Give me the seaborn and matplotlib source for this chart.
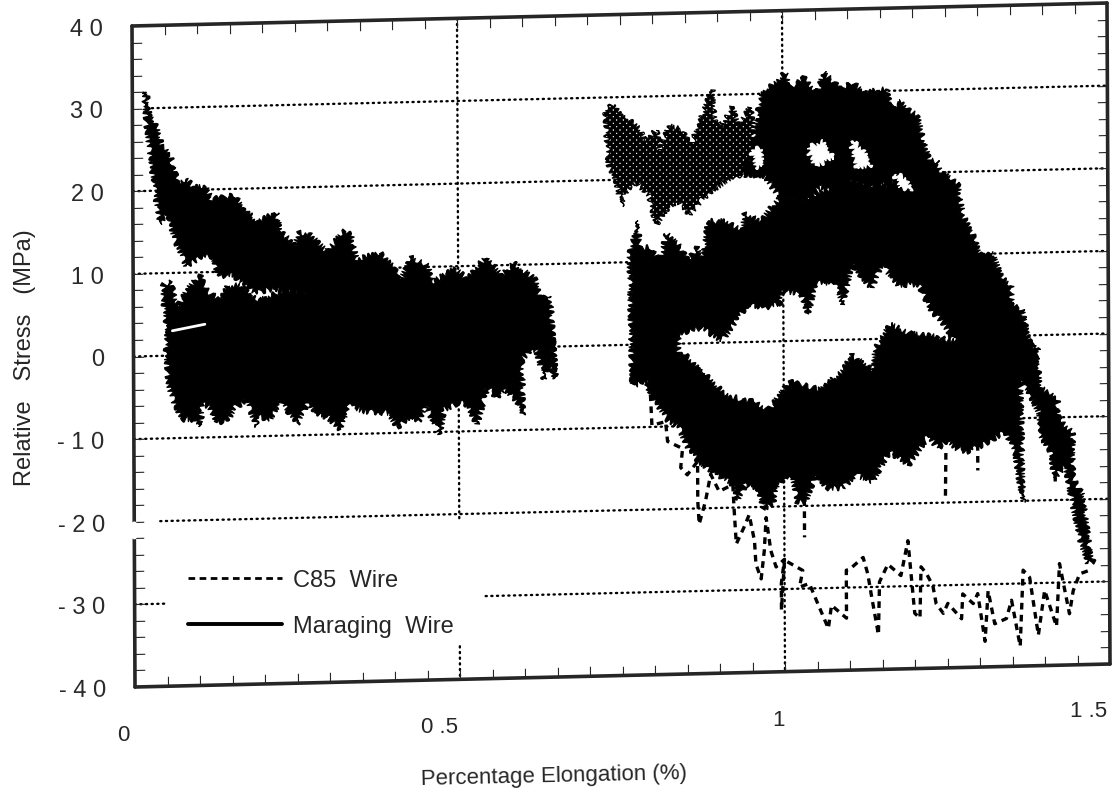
import numpy as np
import seaborn as sns
import matplotlib
matplotlib.use("Agg")
import matplotlib.pyplot as plt
from matplotlib.lines import Line2D
from matplotlib.transforms import Affine2D
from mpl_toolkits.axisartist import floating_axes
from mpl_toolkits.axisartist.grid_finder import FixedLocator, DictFormatter

# maraging wire, first run: decaying band on top of the flat band
decay_top_x = [.021,.026,.041,.044,.058,.069,.082,.095,.113,.121,.156,.172,.192,.220,.228,.249,.256,.272,.297,.326,.336,.344,.379,.403,.410,.428,.454,.459,.495,.515,.541,.567,.585,.618,.626,.641,.646,.649]
decay_top_y = [32.0,29.9,27.3,25.5,24.2,21.0,21.3,20.3,20.3,18.8,19.2,17.5,15.9,17.0,14.6,13.0,14.5,14.3,12.2,14.6,14.0,11.1,11.9,9.8,8.2,11.2,10.1,8.1,9.7,8.4,11.0,8.7,10.3,8.2,5.8,6.2,0.1,-3.9]
decay_low_x = [.018,.023,.033,.041,.054,.064,.082,.100,.123,.131,.154,.187,.218,.244,.646]
decay_low_y = [32.0,27.1,20.6,16.1,17.3,14.1,10.8,11.6,12.0,9.5,9.5,7.4,7.8,7.4,0.1]
flat_top_x = [.051,.046,.056,.069,.087,.103,.113,.131,.146,.164,.187,.205,.223,.244,.285,.644]
flat_top_y = [0,8.5,9.1,6,8.4,9.6,7.8,6.7,8.3,8.3,6.6,6.6,7.4,7.4,7.2,2]
flat_low_x = [.054,.064,.074,.092,.103,.105,.118,.128,.144,.156,.174,.180,.190,.192,.210,.226,.238,.251,.269,.279,.300,.318,.331,.354,.374,.392,.405,.428,.438,.449,.471,.477,.495,.510,.528,.544,.559,.571,.589,.598,.598,.612,.620,.631,.641,.649]
flat_low_y = [-3.6,-6.2,-7.7,-7.9,-8.7,-5.9,-6.5,-8.2,-8,-6.4,-5.7,-7,-8.9,-7.7,-7.9,-5.7,-7.2,-8.6,-5.9,-7.3,-8,-9.4,-6.6,-7.3,-7.5,-7.5,-9.3,-8,-8.6,-6.8,-10.3,-7.3,-6.7,-6.5,-9.2,-4.8,-6,-5.2,-6.4,-8.2,-1.4,-.2,-.4,-4,-2.5,-3.9]
sliver_x = [.06,.11]
sliver_y = [3.0,3.7]

# maraging wire, second run: upper and lower arch around the white lens
arch_top_x = [.764,.767,.777,.779,.797,.810,.821,.838,.854,.867,.877,.885,.910,.938,.941,.967,.982,.995,1.028,1.059,1.105,1.136,1.172,1.213,1.30,1.35,1.38,1.39]
arch_top_y = [10.6,12.6,15,11.7,11.7,10.1,13.3,12.1,10,11.6,10.3,14.7,14.7,13.4,15.5,14.6,16.2,17.4,17,18.1,19.2,18.3,18.9,16.6,9,3,-1,-3]
lens_top_x = [.84,.838,.874,.905,.946,.972,.995,.997,1.028,1.038,1.049,1.079,1.092,1.105,1.136,1.151,1.177,1.208,1.228,1.244,1.264,1.27]
lens_top_y = [-3,1.2,1.9,.2,4.6,4.1,4.5,6.1,5.6,3.2,7,6.8,4.3,9.1,6.2,9,6.5,6.5,3.2,1.9,-.5,-3]
arch_left_x = [.767]
arch_left_y = [-5]
lens_low_x = [.844,.879,.910,.956,.977,1.008,1.054,1.090,1.105,1.138,1.141,1.164,1.197,1.238,1.264]
lens_low_y = [-1.1,-3.5,-6.4,-7.3,-8.3,-4.9,-5.9,-3.9,-1.9,-3.8,-1.2,1.7,.5,.1,-.5]
arch_low_x = [.767,.769,.785,.795,.810,.823,.838,.846,.854,.869,.890,.921,.928,.941,.959,.969,.982,.990,1.013,1.021,1.033,1.049,1.067,1.090,1.110,1.136,1.162,1.192,1.223,1.236,1.251,1.264,1.285,1.315,1.341,1.356,1.367,1.364,1.392]
arch_low_y = [-4.5,-2.5,-3.4,-6.1,-7.8,-9.4,-10.1,-11.5,-13,-14.3,-15.6,-17.2,-19.2,-17.2,-17.7,-20.1,-19.7,-17.3,-16.6,-19.7,-19.4,-16.2,-17.9,-17.9,-16.4,-17.2,-13.7,-15.3,-11.8,-13.4,-12.6,-13.5,-13.9,-12.7,-11.6,-14.4,-20.2,-5.7,-2]
tail_right_x = [1.377,1.392,1.397,1.421,1.423,1.444,1.444,1.459,1.464,1.469,1.475]
tail_right_y = [-.6,-2.9,-6.5,-7.8,-10.2,-11.8,-17.4,-19.4,-22.6,-26.1,-27.5]
tail_left_x = [1.364,1.377,1.392,1.397,1.410,1.415,1.433,1.444,1.454,1.467]
tail_left_y = [-5.7,-6.9,-9.3,-12.5,-14.1,-17.3,-16,-20.6,-24.6,-27.8]

# C85 wire, upper band
c85_top_x = [.728,.741,.751,.762,.779,.787,.808,.810,.826,.844,.859,.869,.892,.895,.908,.923,.931,.951,.962,.967,.992,1.005,1.010,1.033,1.054,1.064,1.090,1.108,1.126,1.159,1.167,1.182,1.195,1.208,1.215,1.226,1.236,1.244,1.269,1.277,1.297,1.300,1.323,1.336,1.351,1.351,1.367,1.377,1.392]
c85_top_y = [28.4,29.2,28.1,27.5,26.4,24.6,26,23.4,26.4,25.9,23.9,26.1,30.7,26.9,26.2,28.6,26.2,28.4,27.4,30.2,31.6,32.5,30.7,31.8,30,32.4,30.3,31.1,29.9,30.2,28,28.6,27.5,26.9,24.3,21.4,21.4,20,18.5,14.8,11.5,9.9,9.9,7,6.2,3.8,3.2,-.6,-2]
c85_low_x = [.731,.733,.744,.751,.759,.774,.795,.805,.823,.838,.856,.874,.890,.921,.941,.972,.997,1.018,1.038,1.059,1.085,1.105,1.136,1.172,1.30]
c85_low_y = [22.7,21.7,19.9,16.8,18.6,19.8,17.8,14.5,16.5,17.3,15.6,17.2,18.4,20,20.3,20.1,17.1,17,17.3,18.5,17.7,19.2,18.3,18.9,5]
c85_holes = [
  ([.952,.968,.970,.958], [23.2,23.4,21.2,21]),
  ([1.038,1.062,1.080,1.050], [23.2,24.2,22,21.2]),
  ([1.105,1.125,1.138,1.115], [24,23,21,20.6]),
  ([1.172,1.190,1.200,1.180], [19.8,19.4,17.8,18.2]),
]

# C85 wire, dashed trace leaving the band downwards
c85_tail_x = [.767,.769,.777,.790,.795,.797,.818,.821,.844,.841,.851,.867,.867,.869,.879,.887,.900,.921,.923,.926,.938,.946,.954,.956,.964,.969,.972,.979,.987,1.0,.995,.995,1.0,1.028,1.023,1.038,1.049,1.067,1.072,1.095,1.095,1.1,1.121,1.128,1.133,1.144,1.146,1.159,1.179,1.19,1.195,1.2,1.208,1.21,1.218,1.228,1.233,1.244,1.251,1.272,1.274,1.29,1.297,1.308,1.313,1.323,1.341,1.349,1.362,1.367,1.377,1.39,1.4,1.418,1.423,1.438,1.444,1.454,1.469]
c85_tail_y = [-3.8,-4.5,-3,-4.2,-6.2,-9.8,-9.4,-11.8,-12.7,-15,-15.9,-14.3,-19.1,-21.9,-19.1,-15.9,-18,-17.2,-20.4,-24.4,-22.4,-20.9,-24.1,-26.9,-28.7,-25.3,-21.3,-25.3,-27.3,-26.4,-29.3,-32.5,-26.5,-27.8,-29.8,-29.4,-31.5,-34.9,-32.1,-33.7,-27.9,-27.8,-26.4,-28.4,-30.8,-35.8,-29.4,-27.3,-28.7,-24.5,-28.9,-33.3,-33.9,-27.7,-28.5,-30,-32.2,-33.4,-32.2,-34.1,-31.1,-32.3,-31.1,-36.9,-30.8,-34.8,-34.2,-32,-37.6,-28.4,-29.3,-36.3,-30.9,-35.3,-27.7,-33.8,-31,-29,-28.6]
c85_spikes = [
  ([1.031,1.031], [-19.2,-23.8]),
  ([1.249,1.248], [-14,-19.4]),
  ([1.298,1.298], [-13,-16.2]),
  ([1.417,1.417], [-15.5,-18.3]),
]

# dotted grid, (start, end) runs
grid_y = [30,20,10,0,-10,-20,-30,-30]
grid_y_start = [.03,0,0,0,0,.04,0,.54]
grid_y_end = [1.5,1.5,1.5,1.5,1.5,1.5,.05,1.5]
grid_x = [.5,.5,1,]
grid_x_start = [40,-36,40]
grid_x_end = [-21,-40,-40]

x_tick_minor = [i / 20 for i in range(31)]
y_tick_minor = list(range(-40, 41, 2))
y_tick_labels = {40:"4 0",30:"3 0",20:"2 0",10:"1 0",0:"0",-10:"- 1 0",-20:"- 2 0",-30:"- 3 0",-40:"- 4 0"}
x_tick_text = ["0","0 .5","1","1 .5"]
x_tick_text_x = [-.0185,.468,.989,1.467]
x_tick_text_y = [-45.7,-45.7,-45.8,-45.6]

sns.set_style("white")
plt.rcParams['font.family'] = ['Liberation Sans', 'DejaVu Sans']
plt.rcParams['hatch.linewidth'] = 2.4

W, H = 1119, 803
fig = plt.figure(figsize=(W/100, H/100), dpi=100)

# the scan is sheared, so data maps to pixels through an affine
tr = Affine2D(np.array([[650., -.0375, 133.5], [15.33, 8.2625, 445.5], [0, 0, 1]]))
helper = floating_axes.GridHelperCurveLinear(
  tr, extremes=(0, 1.5, -40, 40),
  grid_locator1=FixedLocator(x_tick_minor), grid_locator2=FixedLocator(y_tick_minor),
  tick_formatter1=DictFormatter({}), tick_formatter2=DictFormatter(y_tick_labels))
ax = fig.add_axes([0, 0, 1, 1], axes_class=floating_axes.FloatingAxes, grid_helper=helper)
aux = ax.get_aux_axes(tr)

for side in ["left", "right", "top", "bottom"]:
  ax.axis[side].line.set_linewidth(2.6)
  ax.axis[side].major_ticks.set_ticksize(7)
  ax.axis[side].major_ticks.set_linewidth(2.0)
ax.axis["left"].major_ticklabels.set_fontsize(17)
ax.axis["left"].major_ticklabels.set_pad(21)
ax.axis["left"].major_ticklabels.set_va("center_baseline")
ax.axis["bottom"].major_ticklabels.set_visible(False)
ax.axis["right"].major_ticklabels.set_visible(False)
ax.axis["top"].major_ticklabels.set_visible(False)

def band(xs, ys, zorder=2, **kw):
  # rough edge, the trace is too dense to read single cycles here
  for p in aux.fill(xs, ys, lw=.8, zorder=zorder, **kw):
    p.set_sketch_params(scale=3, length=7, randomness=5)

band(decay_top_x + decay_low_x[::-1], decay_top_y + decay_low_y[::-1], color="black")
band(flat_top_x + flat_low_x[::-1], flat_top_y + flat_low_y[::-1], color="black")

# left part of the C85 band is speckled, right part nearly solid
split = 18
band(c85_top_x[:split] + [.962] + c85_low_x[:15][::-1], c85_top_y[:split] + [20.2] + c85_low_y[:15][::-1],
     facecolor="white", edgecolor="black", hatch="xxxxx")
band(c85_top_x[split:] + c85_low_x[14:][::-1], c85_top_y[split:] + c85_low_y[14:][::-1], color="black")
for xs, ys in c85_holes:
  band(xs, ys, zorder=2.1, color="white")

band(arch_top_x + lens_top_x[::-1] + arch_left_x, arch_top_y + lens_top_y[::-1] + arch_left_y, color="black")
band(lens_low_x + arch_low_x[::-1], lens_low_y + arch_low_y[::-1], color="black")
band(tail_right_x + tail_left_x[::-1], tail_right_y + tail_left_y[::-1], color="black")

dotted = (0, (.5, 1.9))
for y, a, b in zip(grid_y, grid_y_start, grid_y_end):
  sns.lineplot(x=[a, b], y=[y, y], ax=aux, color="black", linewidth=1.7, linestyle=dotted, dash_capstyle="round",
               sort=False, estimator=None, errorbar=None, legend=False, zorder=1.5)
for x, a, b in zip(grid_x, grid_x_start, grid_x_end):
  sns.lineplot(x=[x, x], y=[a, b], ax=aux, color="black", linewidth=1.7, linestyle=dotted, dash_capstyle="round",
               sort=False, estimator=None, errorbar=None, legend=False, zorder=1.5)

sns.lineplot(x=c85_tail_x, y=c85_tail_y, ax=aux, color="black", linewidth=2.4, linestyle=(0, (2, 1.6)),
             sort=False, estimator=None, errorbar=None, legend=False, zorder=2)
for xs, ys in c85_spikes:
  sns.lineplot(x=xs, y=ys, ax=aux, color="black", linewidth=2.4, linestyle=(0, (2, 1.6)),
               sort=False, estimator=None, errorbar=None, legend=False, zorder=2)
sns.lineplot(x=sliver_x, y=sliver_y, ax=aux, color="white", linewidth=2, sort=False,
             estimator=None, errorbar=None, legend=False, zorder=3)

# break in the left axis line around -20
sns.lineplot(x=[0, 0], y=[-20.3, -21.8], ax=aux, color="white", linewidth=4, sort=False,
             estimator=None, errorbar=None, legend=False, zorder=6, clip_on=False)

for label, x, y in zip(x_tick_text, x_tick_text_x, x_tick_text_y):
  aux.text(x, y, label, fontsize=16, ha="center", va="center")
aux.text(.643, -51.9, "Percentage Elongation (%)", fontsize=16, ha="center", va="center", rotation=1.3)
fig.text(25/W, 1 - 358/H, "Relative   Stress   (MPa)", fontsize=17, rotation=90, ha="center", va="center")

aux.set_xlabel("")
aux.set_ylabel("")
handles = [Line2D([], [], color="black", lw=2, linestyle=(0, (2.4, 1.6))),
           Line2D([], [], color="black", lw=2.8)]
fig.legend(handles, ["C85  Wire", "Maraging  Wire"], loc="lower left", frameon=False, fontsize=17,
           bbox_to_anchor=(188/W, 1 - 638/H), bbox_transform=fig.transFigure, borderpad=0, borderaxespad=0,
           handlelength=4.0, handletextpad=.45, labelspacing=1.0)

ax.set_xlim(0, W)
ax.set_ylim(0, H)
fig.savefig("out.png", dpi=100, facecolor="white")
